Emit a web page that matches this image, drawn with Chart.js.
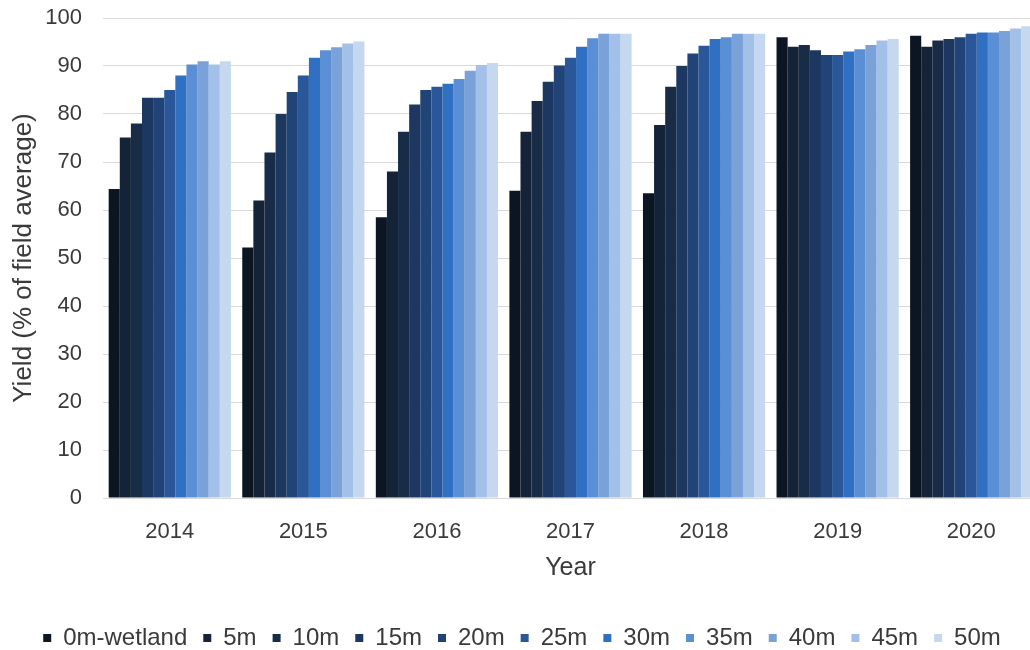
<!DOCTYPE html>
<html>
<head>
<meta charset="utf-8">
<script src="https://cdn.jsdelivr.net/npm/chart.js@4"></script>
<style>
    html, body { margin: 0; padding: 0; background: #fff; overflow: hidden; }
    #wrap { position: relative; width: 1040px; height: 660px; }
</style>
</head>
<body>
<div id="wrap"><canvas id="chart"></canvas></div>
<script>
// Yield by distance from wetland, per year

const years = ['2014', '2015', '2016', '2017', '2018', '2019', '2020'];
const distances = ['0m-wetland', '5m', '10m', '15m', '20m', '25m', '30m', '35m', '40m', '45m', '50m'];

const yield0m  = [64.4, 52.2, 58.5, 64.0, 63.5, 96.0, 96.3];
const yield5m  = [75.1, 62.0, 68.0, 76.3, 77.7, 94.0, 94.0];
const yield10m = [78.0, 72.0, 76.3, 82.7, 85.7, 94.4, 95.3];
const yield15m = [83.4, 80.0, 82.0, 86.7, 90.0, 93.3, 95.6];
const yield20m = [83.4, 84.6, 85.0, 90.1, 92.6, 92.3, 96.0];
const yield25m = [85.0, 88.0, 85.7, 91.7, 94.2, 92.3, 96.7];
const yield30m = [88.0, 91.7, 86.3, 94.0, 95.6, 93.0, 97.0];
const yield35m = [90.3, 93.3, 87.3, 95.8, 96.0, 93.5, 97.0];
const yield40m = [91.0, 93.9, 89.0, 96.7, 96.7, 94.4, 97.3];
const yield45m = [90.3, 94.7, 90.2, 96.7, 96.7, 95.3, 97.8];
const yield50m = [91.0, 95.1, 90.6, 96.7, 96.7, 95.6, 98.3];

const seriesValues = [yield0m, yield5m, yield10m, yield15m, yield20m, yield25m,
                      yield30m, yield35m, yield40m, yield45m, yield50m];

const colors = ['#0c1622', '#142338', '#182c48', '#1c3860', '#214478', '#29579a',
                '#3070c2', '#5a8fd6', '#7aa1d8', '#a3c1e8', '#c6d8f0'];

const TEXT = '#3a3a3a';
const FONT = 'Liberation Sans, Arial, sans-serif';

const ctx = document.getElementById('chart').getContext('2d');
new Chart(ctx, {
    type: 'bar',
    data: {
        labels: years,
        datasets: distances.map((name, i) => ({
            label: name,
            data: seriesValues[i],
            backgroundColor: colors[i],
            borderWidth: 0,
            categoryPercentage: 0.915,
            barPercentage: 1.0
        }))
    },
    options: {
        animation: false,
        responsive: true,
        maintainAspectRatio: false,
        layout: { padding: { top: 18, right: 2, left: 6, bottom: 0 } },
        plugins: {
            legend: {
                position: 'bottom',
                labels: {
                    color: TEXT,
                    boxWidth: 8,
                    boxHeight: 8,
                    padding: 16,
                    font: { family: FONT, size: 24 }
                }
            },
            tooltip: { enabled: false }
        },
        scales: {
            x: {
                grid: { display: false, drawTicks: false },
                border: { display: true, color: '#d9d9d9' },
                ticks: {
                    color: TEXT,
                    padding: 21,
                    font: { family: FONT, size: 22 }
                },
                title: {
                    display: true,
                    text: 'Year',
                    color: TEXT,
                    padding: { top: 0, bottom: 27 },
                    font: { family: FONT, size: 25 }
                },
                afterFit: (scale) => { scale.height = 112; }
            },
            y: {
                min: 0,
                max: 100,
                ticks: {
                    stepSize: 10,
                    color: TEXT,
                    padding: 21,
                    font: { family: FONT, size: 22 }
                },
                grid: { color: '#d9d9d9', drawTicks: false },
                border: { display: false },
                title: {
                    display: true,
                    text: 'Yield (% of field average)',
                    color: TEXT,
                    padding: { top: 2, bottom: 0 },
                    font: { family: FONT, size: 26 }
                },
                afterFit: (scale) => {
                    scale.width = 97;
                    scale.paddingTop = 0;
                    scale.paddingBottom = 0;
                }
            }
        }
    }
});
</script>
</body>
</html>
